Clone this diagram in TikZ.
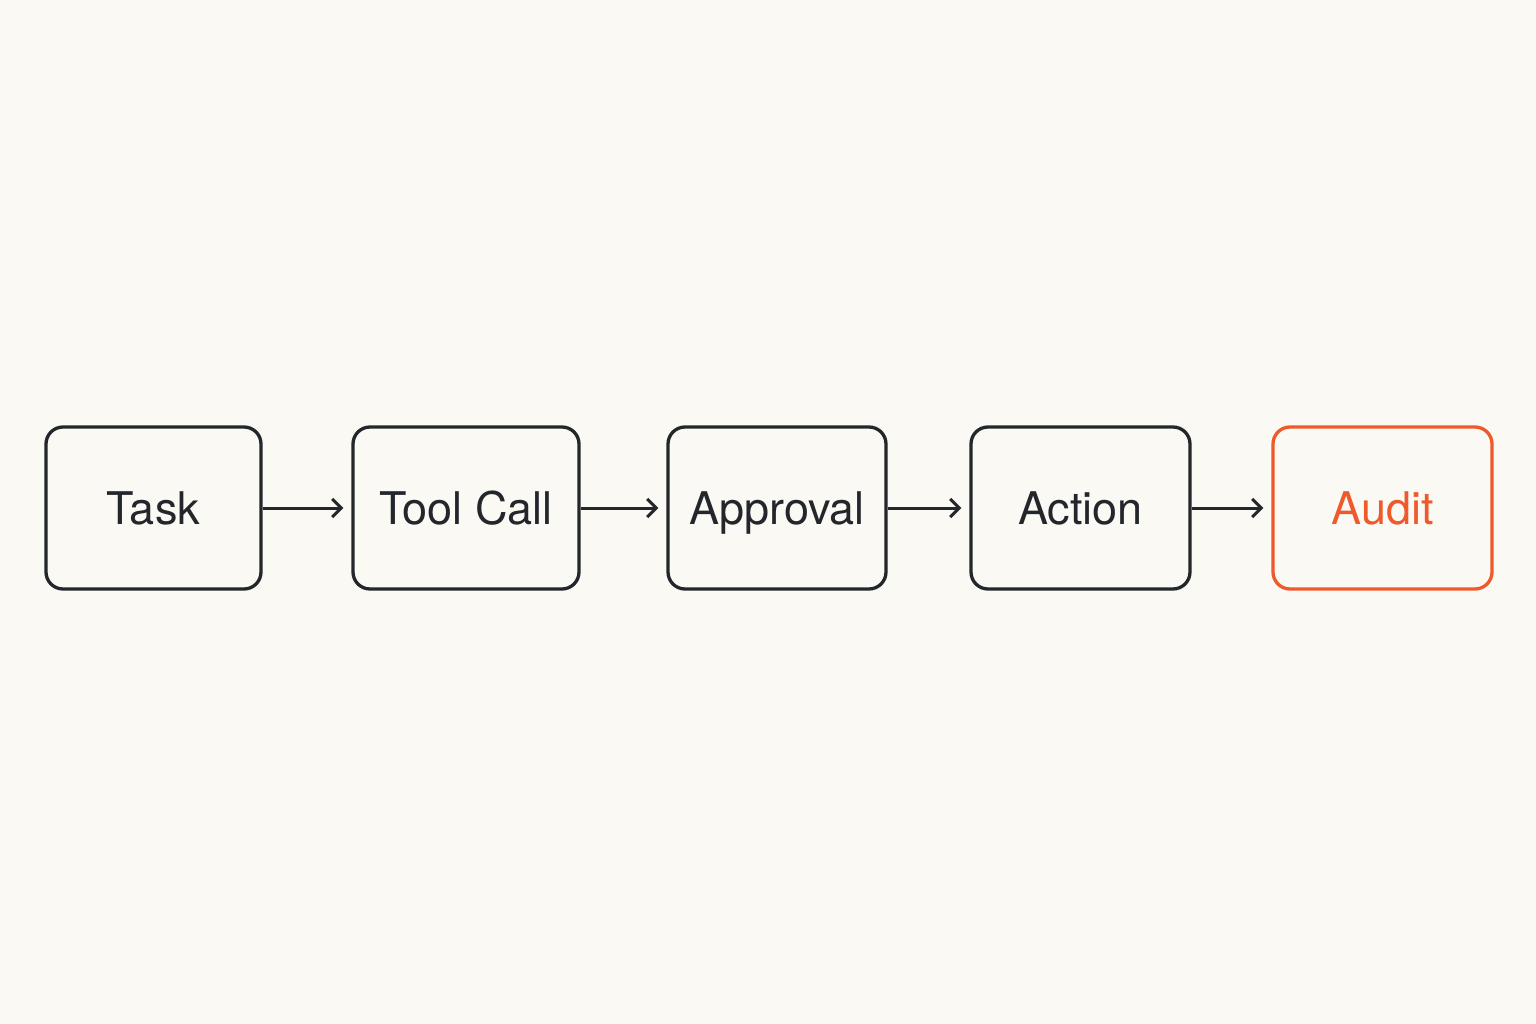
\documentclass[tikz,border=0pt]{standalone}
\usepackage{fontspec}
\setmainfont{TeX Gyre Heros}
\usetikzlibrary{arrows.meta}
\definecolor{bg}{HTML}{FBF9F4}
\definecolor{ink}{HTML}{23272C}
\definecolor{hot}{HTML}{EE5A2C}
\begin{document}
\begin{tikzpicture}[x=1pt,y=-1pt,
  box/.style={draw=ink,line width=3.3pt,rounded corners=17pt,minimum height=162pt,inner sep=0pt},
  lbl/.style={anchor=base,inner sep=0pt,font=\fontsize{45}{52}\selectfont,text=ink},
  arr/.style={draw=ink,line width=3pt,-{Straight Barb[length=9pt,width=18pt,line width=3pt]}}]
\fill[bg] (0,0) rectangle (1536,1024);
\useasboundingbox (0,0) rectangle (1536,1024);
\node[box,minimum width=215pt] (t) at (153.5,508) {};
\node[box,minimum width=226pt] (tc) at (466,508) {};
\node[box,minimum width=218pt] (ap) at (777,508) {};
\node[box,minimum width=219pt] (ac) at (1080.5,508) {};
\node[box,minimum width=219pt,draw=hot] (au) at (1382.5,508) {};
\node[lbl] (tl) at ([yshift=-16pt]t.center) {Task};
\node[lbl] (tcl) at ([yshift=-16pt]tc.center) {Tool Call};
\node[lbl] (apl) at ([yshift=-16pt]ap.center) {Approval};
\node[lbl] (acl) at ([yshift=-16pt]ac.center) {Action};
\node[lbl,text=hot] (aul) at ([yshift=-16pt]au.center) {Audit};
\draw[arr] (t.east) -- ([xshift=-8pt]tc.west);
\draw[arr] (tc.east) -- ([xshift=-8pt]ap.west);
\draw[arr] (ap.east) -- ([xshift=-8pt]ac.west);
\draw[arr] (ac.east) -- ([xshift=-8pt]au.west);
\end{tikzpicture}
\end{document}
